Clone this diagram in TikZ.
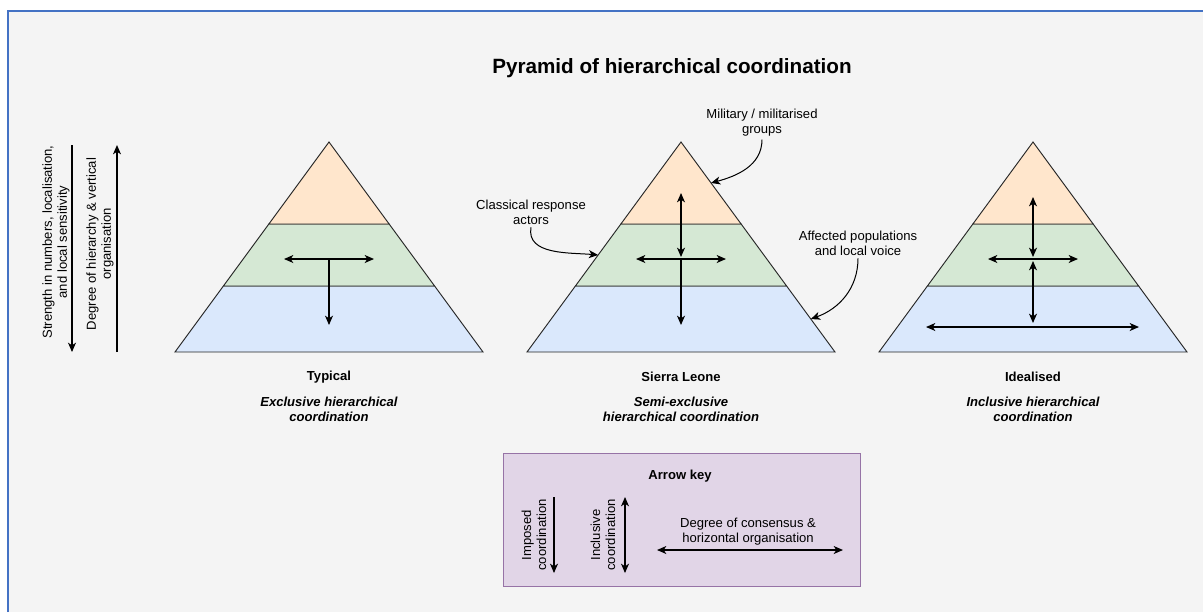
\documentclass[tikz,border=0pt]{standalone}
\usepackage{fontspec}
\setmainfont{Liberation Sans}
\usetikzlibrary{calc,arrows.meta,positioning}
\definecolor{pagebg}{HTML}{F4F4F4}
\definecolor{framecol}{HTML}{4472C4}
\definecolor{topfill}{HTML}{FFE6CC}
\definecolor{midfill}{HTML}{D5E8D4}
\definecolor{basefill}{HTML}{DAE8FC}
\definecolor{keyfill}{HTML}{E1D5E7}
\definecolor{keydraw}{HTML}{9673A6}
\tikzset{
  layer/.style={draw=black!85, line width=0.7pt},
  oneway/.style={line width=0.9pt, -{Stealth[length=7pt,width=6pt,inset=2pt]}},
  twoway/.style={line width=0.9pt, {Stealth[length=7pt,width=6pt,inset=2pt]}-{Stealth[length=7pt,width=6pt,inset=2pt]}},
  curly/.style={line width=0.75pt, -{Stealth[length=7pt,width=6pt,inset=2pt]}},
  lbl/.style={font=\fontsize{9.8}{11.3}\selectfont, align=center, inner sep=2pt},
  case/.style={lbl, font=\fontsize{9.8}{11.3}\selectfont\bfseries},
  kind/.style={lbl, font=\fontsize{9.8}{11.3}\selectfont\bfseries\itshape},
  keybox/.style={draw=keydraw, fill=keyfill, line width=0.75pt, minimum width=267.75pt, minimum height=99.75pt}
}
\newcommand{\PyrLayers}[2]{% #1=basename (e.g. S1), #2=apex x
  \coordinate (#1T) at (#2,142);
  \coordinate (#1L) at (#2-154,352);
  \coordinate (#1R) at (#2+154,352);
  \coordinate (#1a) at ($(#1T)!0.3905!(#1L)$);
  \coordinate (#1b) at ($(#1T)!0.6857!(#1L)$);
  \coordinate (#1c) at ($(#1T)!0.3905!(#1R)$);
  \coordinate (#1d) at ($(#1T)!0.6857!(#1R)$);
  \filldraw[layer, fill=basefill] (#1b) -- (#1L) -- (#1R) -- (#1d) -- cycle;
  \filldraw[layer, fill=midfill] (#1a) -- (#1b) -- (#1d) -- (#1c) -- cycle;
  \filldraw[layer, fill=topfill] (#1T) -- (#1a) -- (#1c) -- cycle;
}

\begin{document}
\begin{tikzpicture}[x=0.75pt, y=-0.75pt]
    \useasboundingbox (0,0) rectangle (1203,612);
    \fill[white] (0,0) rectangle (1203,612);
    \fill[pagebg] (8,11) rectangle (1203,612);
    \draw[framecol, line width=1.5pt] (8,612) -- (8,11) -- (1203,11);

    \node[font=\fontsize{15.5}{18}\selectfont\bfseries] (title) at (672,68) {Pyramid of hierarchical coordination};

% ---- side axes
    \coordinate (Ax1) at (72,145);
    \coordinate (Ax2) at (72,352);
    \coordinate (Ay1) at (117,352);
    \coordinate (Ay2) at (117,145);
    \draw[oneway] (Ax1) -- (Ax2);
    \draw[oneway] (Ay1) -- (Ay2);
    \node[lbl, rotate=90] (strength) at (56,242) {Strength in numbers, localisation,\\and local sensitivity};
    \node[lbl, rotate=90] (degree) at (100,244) {Degree of hierarchy \& vertical\\organisation};

% ---- pyramids
    \PyrLayers{S1}{329}
    \PyrLayers{S2}{681}
    \PyrLayers{S3}{1033}

% ---- typical
    \coordinate (S1h1) at (284,259);
    \coordinate (S1h2) at (374,259);
    \coordinate (S1m) at (329,259);
    \coordinate (S1v) at (329,325);
    \draw[twoway] (S1h1) -- (S1h2);
    \draw[oneway] (S1m) -- (S1v);

% ---- sierra leone
    \coordinate (S2up) at (681,193);
    \coordinate (S2m) at (681,257);
    \coordinate (S2m0) at (681,259);
    \coordinate (S2v) at (681,325);
    \coordinate (S2h1) at (636,259);
    \coordinate (S2h2) at (726,259);
    \draw[twoway] (S2up) -- (S2m);
    \draw[twoway] (S2h1) -- (S2h2);
    \draw[oneway] (S2m0) -- (S2v);

% ---- idealised
    \coordinate (S3up) at (1033,197);
    \coordinate (S3m) at (1033,257);
    \coordinate (S3n) at (1033,261);
    \coordinate (S3v) at (1033,323);
    \coordinate (S3h1) at (988,259);
    \coordinate (S3h2) at (1078,259);
    \coordinate (S3w1) at (926,327);
    \coordinate (S3w2) at (1139,327);
    \draw[twoway] (S3up) -- (S3m);
    \draw[twoway] (S3n) -- (S3v);
    \draw[twoway] (S3h1) -- (S3h2);
    \draw[twoway] (S3w1) -- (S3w2);

% ---- captions
    \node[case] (typical) at (329,377) {Typical};
    \node[kind] (typicalK) at (329,409) {Exclusive hierarchical\\coordination};
    \node[case] (sierra) at (681,377) {Sierra Leone};
    \node[kind] (sierraK) at (681,409) {Semi-exclusive\\hierarchical coordination};
    \node[case] (ideal) at (1033,377) {Idealised};
    \node[kind] (idealK) at (1033,409) {Inclusive hierarchical\\coordination};

% ---- layer notes
    \node[lbl] (mil) at (762,123) {Military / militarised\\groups};
    \node[lbl] (cla) at (531,212) {Classical response\\actors};
    \node[lbl] (aff) at (858,243) {Affected populations\\and local voice};
    \coordinate (milTip) at ($(S2T)!0.195!(S2R)$);
    \coordinate (claTip) at ($(S2T)!0.538!(S2L)$);
    \coordinate (affTip) at ($(S2T)!0.843!(S2R)$);
    \draw[curly] (mil.south) to[out=-90, in=15] (milTip);
    \draw[curly] (cla.south) to[out=-100, in=175] (claTip);
    \draw[curly] (aff.south) to[out=-90, in=20] (affTip);

% ---- arrow key
    \node[keybox] (key) at (681.5,519.5) {};
    \node[case] (keyT) at (680,476) {Arrow key};
    \coordinate (K1a) at (554,497);
    \coordinate (K1b) at (554,573);
    \coordinate (K2a) at (625,497);
    \coordinate (K2b) at (625,573);
    \coordinate (K3a) at (657,550);
    \coordinate (K3b) at (843,550);
    \draw[oneway] (K1a) -- (K1b);
    \draw[twoway] (K2a) -- (K2b);
    \draw[twoway] (K3a) -- (K3b);
    \node[lbl, rotate=90] (imposed) at (534,535) {Imposed\\coordination};
    \node[lbl, rotate=90] (inclusive) at (603,535) {Inclusive\\coordination};
    \node[lbl] (consensus) at (748,532) {Degree of consensus \&\\horizontal organisation};
\end{tikzpicture}
\end{document}
